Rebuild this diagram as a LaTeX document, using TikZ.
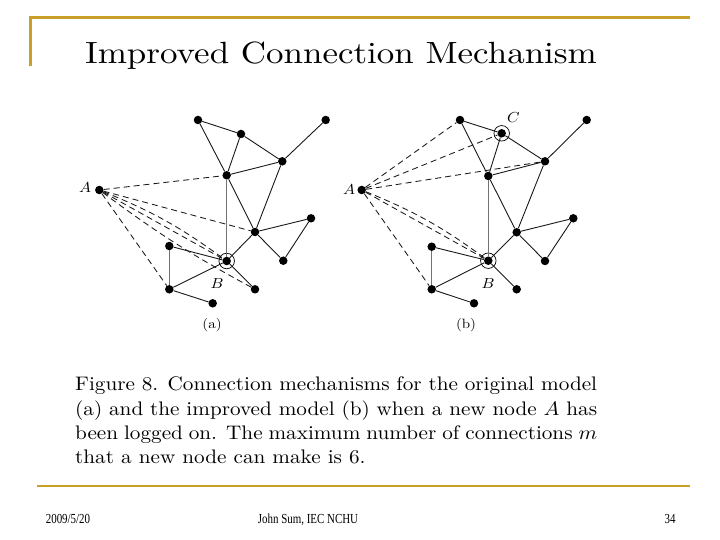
\documentclass[tikz,border=0pt]{standalone}
\usepackage{fontspec}
\newfontfamily\footfont{Liberation Serif}
\definecolor{gold}{RGB}{200,160,40}
\definecolor{edgecol}{RGB}{25,25,25}
\newcommand{\wlbl}[1]{\scalebox{1.6}[1.45]{\fontsize{10}{12}\selectfont #1}}
\newcommand{\sublb}[1]{\scalebox{1.5}[1.35]{\fontsize{10}{12}\selectfont #1}}
\newcommand{\ftxt}[1]{\scalebox{0.95}[1.2]{\footfont\fontsize{11.5}{13}\selectfont #1}}
\begin{document}
\begin{tikzpicture}[x=1pt,y=-1pt,
  dot/.style={circle,fill=black,inner sep=0pt,minimum size=8.5pt},
  ring/.style={circle,draw=black,line width=0.7pt,inner sep=0pt,minimum size=15.5pt},
  edge/.style={draw=edgecol,line width=0.9pt},
  vedge/.style={draw=black!55,line width=1.1pt},
  dashedge/.style={draw=edgecol,line width=0.85pt,dash pattern=on 6pt off 4pt},
  goldline/.style={draw=gold,line width=2.6pt},
  lbl/.style={inner sep=0pt},
  capline/.style={anchor=base west,inner sep=0pt},
  foot/.style={inner sep=0pt,anchor=base}]
\useasboundingbox (0,0) rectangle (720,540);
\fill[white] (0,0) rectangle (720,540);
% frame
\coordinate (tl) at (30.5,17.5);
\coordinate (tr) at (690,17.5);
\coordinate (lb) at (30.5,66.5);
\coordinate (bl) at (37,486);
\coordinate (br) at (690,486);
\draw[goldline] (lb) -- (tl) -- (tr);
\draw[goldline] (bl) -- (br);
% title
\node[anchor=base west,inner sep=0pt] (title) at (85,63.3)
  {\scalebox{3.5}[3.07]{\fontsize{10}{12}\selectfont Improved Connection Mechanism}};

% ---------- graph (a) ----------
\node[dot] (a1) at (198,120) {};
\node[dot] (a2) at (241,134) {};
\node[dot] (a3) at (325.7,120) {};
\node[dot] (a4) at (282.3,161.3) {};
\node[dot] (a5) at (226.7,175.3) {};
\node[dot] (aA) at (99.3,190) {};
\node[dot] (a6) at (311,218.3) {};
\node[dot] (a7) at (255,232) {};
\node[dot] (a8) at (169.3,246) {};
\node[dot] (aB) at (226.7,261) {};
\node[dot] (a9) at (283.3,260.7) {};
\node[dot] (a10) at (169.3,289.3) {};
\node[dot] (a11) at (255,289.3) {};
\node[dot] (a12) at (212.7,303.3) {};
\node[ring] (aBr) at (aB) {};
\draw[edge] (a1) -- (a2);
\draw[edge] (a1) -- (a5);
\draw[edge] (a2) -- (a5);
\draw[edge] (a2) -- (a4);
\draw[edge] (a3) -- (a4);
\draw[edge] (a5) -- (a4);
\draw[vedge] (a5) -- (aB);
\draw[edge] (a5) -- (a7);
\draw[edge] (a4) -- (a7);
\draw[edge] (a7) -- (a6);
\draw[edge] (a6) -- (a9);
\draw[edge] (a7) -- (a9);
\draw[edge] (a7) -- (aB);
\draw[edge] (a8) -- (aB);
\draw[vedge] (a8) -- (a10);
\draw[edge] (a10) -- (aB);
\draw[edge] (a10) -- (a12);
\draw[edge] (aB) -- (a11);
\draw[dashedge] (aA) -- (a5);
\draw[dashedge] (aA) -- (a7);
\draw[dashedge] (aA) to[bend left=7] (aB);
\draw[dashedge] (aA) -- (aB);
\draw[dashedge] (aA) to[bend right=4] (a11);
\draw[dashedge] (aA) -- (a10);
\node[lbl] (aAl) at (85,188) {\wlbl{$A$}};
\node[lbl] (aBl) at (217,284) {\wlbl{$B$}};
\node[lbl] (acap) at (212,325) {\sublb{(a)}};

% ---------- graph (b) ----------
\node[dot] (b1) at (460,120) {};
\node[dot] (bC) at (501.7,133.3) {};
\node[dot] (b3) at (586.7,120) {};
\node[dot] (b4) at (545,161.3) {};
\node[dot] (b5) at (488.3,176) {};
\node[dot] (bA) at (361.7,190) {};
\node[dot] (b6) at (573.3,218.3) {};
\node[dot] (b7) at (516.7,232.3) {};
\node[dot] (b8) at (431.7,246.7) {};
\node[dot] (bB) at (488.3,260.7) {};
\node[dot] (b9) at (545,261) {};
\node[dot] (b10) at (431.7,289.3) {};
\node[dot] (b11) at (516.7,289.3) {};
\node[dot] (b12) at (474,303.3) {};
\node[ring] (bBr) at (bB) {};
\node[ring] (bCr) at (bC) {};
\draw[edge] (b1) -- (bC);
\draw[edge] (b1) -- (b5);
\draw[edge] (bC) -- (b5);
\draw[edge] (bC) -- (b4);
\draw[edge] (b3) -- (b4);
\draw[edge] (b5) -- (b4);
\draw[vedge] (b5) -- (bB);
\draw[edge] (b5) -- (b7);
\draw[edge] (b4) -- (b7);
\draw[edge] (b7) -- (b6);
\draw[edge] (b6) -- (b9);
\draw[edge] (b7) -- (b9);
\draw[edge] (b7) -- (bB);
\draw[edge] (b8) -- (bB);
\draw[vedge] (b8) -- (b10);
\draw[edge] (b10) -- (bB);
\draw[edge] (b10) -- (b12);
\draw[edge] (bB) -- (b11);
\draw[dashedge] (bA) -- (b1);
\draw[dashedge] (bA) -- (bC);
\draw[dashedge] (bA) -- (b4);
\draw[dashedge] (bA) to[bend left=7] (bB);
\draw[dashedge] (bA) -- (bB);
\draw[dashedge] (bA) -- (b10);
\node[lbl] (bAl) at (349,190) {\wlbl{$A$}};
\node[lbl] (bBl) at (488,284) {\wlbl{$B$}};
\node[lbl] (bCl) at (513.5,117.5) {\wlbl{$C$}};
\node[lbl] (bcap) at (466,325) {\sublb{(b)}};

% ---------- caption ----------
\node[capline] (cap1) at (75,390.7) {\scalebox{2.12}[1.96]{\fontsize{10}{12}\selectfont\makebox[246.2pt][s]{Figure 8. Connection mechanisms for the original model}}};
\node[capline] (cap2) at (75,415) {\scalebox{2.12}[1.96]{\fontsize{10}{12}\selectfont\makebox[246.2pt][s]{(a) and the improved model (b) when a new node $A$ has}}};
\node[capline] (cap3) at (75,439.3) {\scalebox{2.12}[1.96]{\fontsize{10}{12}\selectfont\makebox[246.2pt][s]{been logged on. The maximum number of connections $m$}}};
\node[capline] (cap4) at (75,463.6) {\scalebox{2.12}[1.96]{\fontsize{10}{12}\selectfont that a new node can make is 6.}};

% ---------- footer ----------
\node[foot] (fdate) at (68,523.5) {\ftxt{2009/5/20}};
\node[foot] (fauth) at (308,523.5) {\ftxt{John Sum, IEC NCHU}};
\node[foot] (fpage) at (670,523.5) {\ftxt{34}};
\end{tikzpicture}
\end{document}
